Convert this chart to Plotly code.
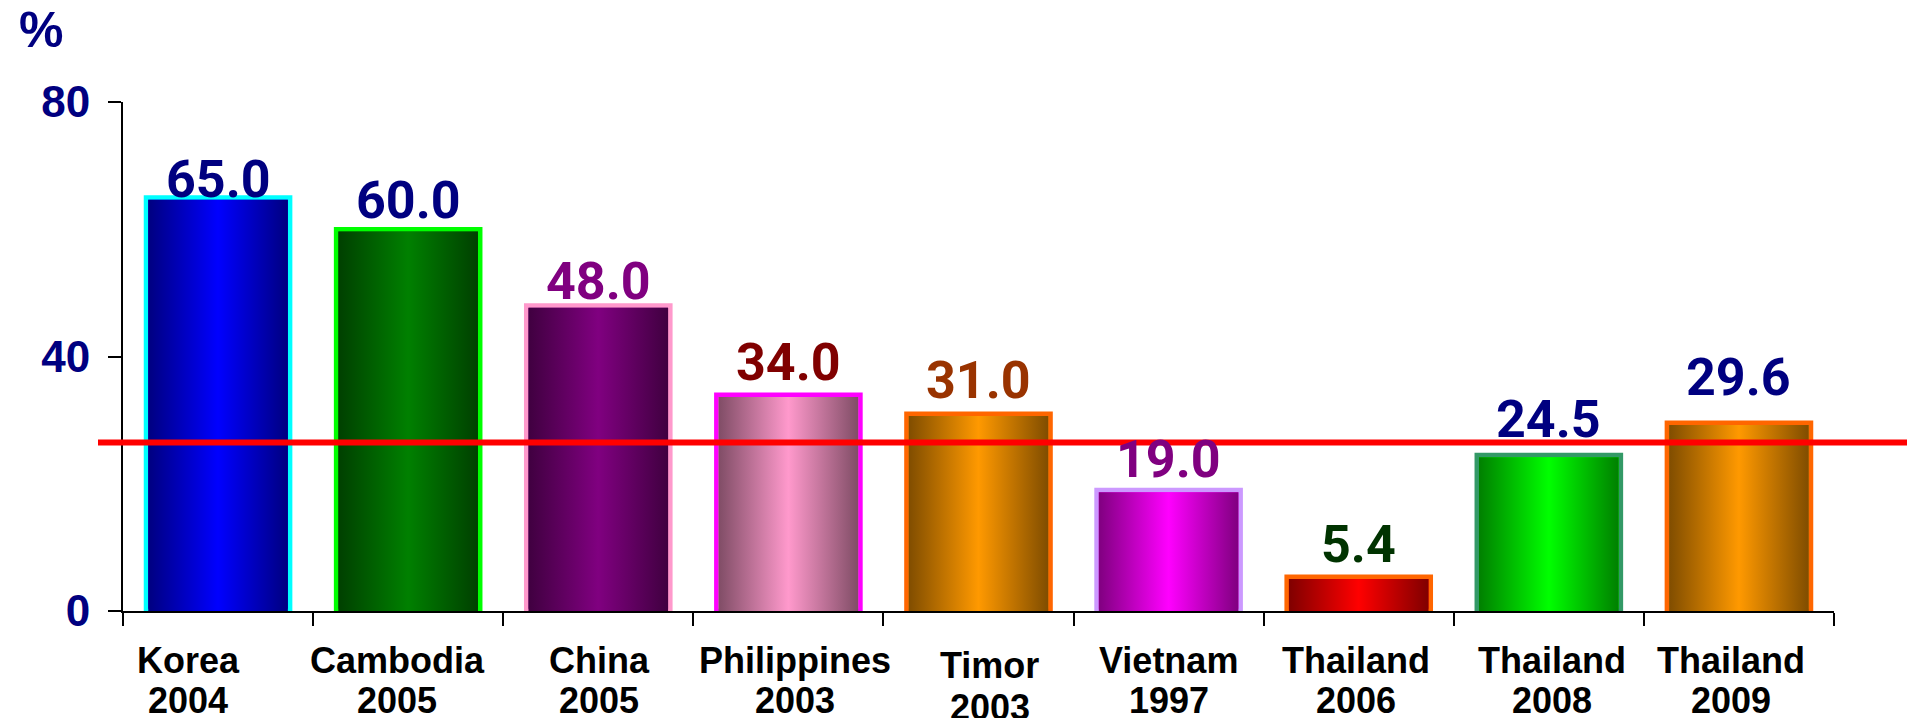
import plotly.graph_objects as go

# ---- data ----
names = ["Korea", "Cambodia", "China", "Philippines", "Timor", "Vietnam", "Thailand", "Thailand", "Thailand"]
years = ["2004", "2005", "2005", "2003", "2003", "1997", "2006", "2008", "2009"]
values = [65.0, 60.0, 48.0, 34.0, 31.0, 19.0, 5.4, 24.5, 29.6]
average = 26.5
y_ticks = [0, 40, 80]

# ---- styles ----
center_colors = ["#0000FF", "#008000", "#800080", "#FF99CC", "#FF9900", "#FF00FF", "#FF0000", "#00FF00", "#FF9900"]
edge_colors = ["#000080", "#004000", "#400040", "#804D66", "#804D00", "#800080", "#800000", "#008000", "#804D00"]
border_colors = ["#00FFFF", "#00FF00", "#FF99CC", "#FF00FF", "#FF6600", "#CC99FF", "#FF6600", "#339966", "#FF6600"]
value_colors = ["#000080", "#000080", "#800080", "#800000", "#993300", "#800080", "#003300", "#000080", "#000080"]
value_yshift = [-15, -4, -8, 0, 1, -2, 0, 3, 13]
label_xshift = [-30, -11, 1, 7, 11, 0, -3, 3, -8]
label_yshift_extra = [0, 0, 0, 0, -5, 0, 0, 0, 0]

OFF = 8  # page body margin
W, H = 1915 - OFF, 718 - OFF
ML, MR, MT, MB = 123 - OFF, 81, 102 - OFF, 107
BAR_W = 0.758
LINE_W = 4.5
VALUE_FONT = "Roboto, DejaVu Sans Condensed, sans-serif"
TICK_FONT = "Liberation Sans Narrow, Arial Narrow, Liberation Sans, sans-serif"
LABEL_FONT = "Liberation Sans, Arial, sans-serif"

cats = [f"{n} {y}" for n, y in zip(names, years)]
n = len(cats)
PW, PH = W - ML - MR, H - MT - MB

fig = go.Figure()
fig.add_trace(go.Bar(
    x=cats, y=values, width=BAR_W,
    marker=dict(color=center_colors, line=dict(color=border_colors, width=LINE_W)),
    hoverinfo="x+y", showlegend=False,
))

# gradient fills (drawn from the same data on an overlaid numeric axis)
px_per_x = PW / n
px_per_y = PH / (y_ticks[-1] - y_ticks[0])
ix = LINE_W / 2 / px_per_x
iy = LINE_W / 2 / px_per_y
for i, v in enumerate(values):
    x0, x1 = i - BAR_W / 2 + ix, i + BAR_W / 2 - ix
    y1 = v - iy
    fig.add_trace(go.Scatter(
        x=[x0, x1, x1, x0, x0], y=[0, 0, y1, y1, 0],
        xaxis="x2", yaxis="y", mode="lines", fill="toself",
        line=dict(width=0, color="rgba(0,0,0,0)"),
        fillcolor=center_colors[i],
        fillgradient=dict(type="horizontal",
                          colorscale=[[0, edge_colors[i]], [0.5, center_colors[i]], [1, edge_colors[i]]]),
        hoverinfo="skip", showlegend=False,
    ))

annotations = []
# value labels
for i, v in enumerate(values):
    annotations.append(dict(
        x=cats[i], y=v, xref="x", yref="y", text=f"{v:.1f}", showarrow=False,
        xanchor="center", yanchor="bottom", yshift=value_yshift[i],
        font=dict(family=VALUE_FONT, size=52, color=value_colors[i], weight="bold"),
    ))
# category labels (two lines)
for i in range(n):
    for line_text, ys, k in ((names[i], -49.5, 1.0), (years[i], -89.6, 1.3)):
        annotations.append(dict(
            x=cats[i], y=0, xref="x", yref="y", text=line_text, showarrow=False,
            xanchor="center", yanchor="middle", xshift=label_xshift[i],
            yshift=ys + label_yshift_extra[i] * k,
            font=dict(family=LABEL_FONT, size=36, color="#000000", weight="bold"),
        ))
# unit label
annotations.append(dict(
    x=(40.5 - OFF - ML) / PW, y=(H - MB - (30 - OFF)) / PH,
    xref="paper", yref="paper", text="%", showarrow=False,
    xanchor="center", yanchor="middle",
    font=dict(family=LABEL_FONT, size=50, color="#000080", weight="bold"),
))

fig.update_layout(
    width=W, height=H, autosize=False,
    margin=dict(l=ML, r=MR, t=MT, b=MB, pad=0),
    paper_bgcolor="white", plot_bgcolor="white",
    showlegend=False,
    xaxis=dict(
        type="category", range=[-0.5, n - 0.5], tickson="boundaries",
        ticks="outside", ticklen=13, tickwidth=2, tickcolor="black",
        showticklabels=False, showline=True, linewidth=2, linecolor="black",
        showgrid=False, zeroline=False, fixedrange=True,
    ),
    xaxis2=dict(overlaying="x", anchor="y", range=[-0.5, n - 0.5], visible=False, fixedrange=True),
    yaxis=dict(
        range=[y_ticks[0], y_ticks[-1]], tickmode="array", tickvals=y_ticks,
        ticks="outside", ticklen=13, tickwidth=2, tickcolor="black",
        showline=True, linewidth=2, linecolor="black",
        showgrid=False, zeroline=False, ticklabelstandoff=9,
        tickfont=dict(family=TICK_FONT, size=44, color="#000080", weight="bold"),
        fixedrange=True,
    ),
    annotations=annotations,
    shapes=[dict(
        type="line", xref="paper", yref="y",
        x0=(98 - OFF - ML) / PW, x1=(W + 5 - ML) / PW,
        y0=average, y1=average, line=dict(color="#FF0000", width=6), layer="above",
    )],
)

fig.write_html("out.html", config={"displayModeBar": False})
